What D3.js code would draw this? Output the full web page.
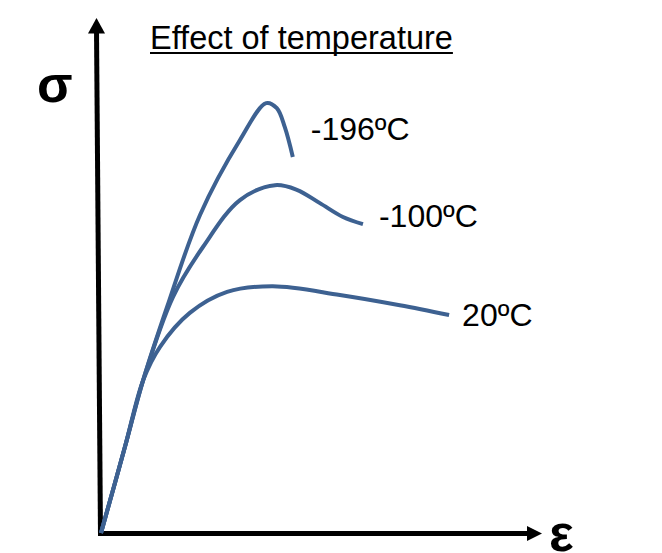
<!DOCTYPE html>
<html>
<head>
<meta charset="utf-8">
<script src="https://cdn.jsdelivr.net/npm/d3@7"></script>
<style>
  body { margin: 0; background: white; }
  svg { display: block; }
</style>
</head>
<body>
<div id="view-container"></div>
<script>
// ************** data (arbitrary units) **************************************
var titleText = "Effect of temperature";
var yLabel = "σ";
var xLabel = "ε";

var seriesNames = ["-196ºC", "-100ºC", "20ºC"];

// strain values per curve
var strain196 = [0, 0.54, 0.95, 1.49, 2.23, 3.13, 3.72, 3.96, 4.14, 4.32];
var strain100 = [0, 0.54, 0.95, 1.62, 2.30, 3.13, 3.92, 4.41, 4.93, 5.45, 5.90];
var strain20  = [0, 0.54, 0.95, 1.33, 2.00, 2.84, 3.87, 5.38, 6.73, 7.84];

// stress values per curve
var stress196 = [0, 1.68, 2.98, 4.41, 6.20, 7.66, 8.38, 8.28, 7.91, 7.33];
var stress100 = [0, 1.68, 2.98, 4.60, 5.58, 6.49, 6.78, 6.69, 6.43, 6.16, 6.02];
var stress20  = [0, 1.68, 2.98, 3.63, 4.29, 4.70, 4.81, 4.64, 4.44, 4.25];

// ************** layout *****************
var widthTotal = 662;
var heightTotal = 553;
var margin = {top: 20, right: 117, bottom: 20, left: 101};

var lineColor = "#3d6191";
var fontFamily = "'Liberation Sans', Arial, sans-serif";

// where the labels sit relative to the end of each curve
var labelOffset = [{dx: 18, dy: -17}, {dx: 16, dy: 3}, {dx: 13, dy: 11}];

var x = d3.scaleLinear().domain([0, 10]).range([margin.left, widthTotal - margin.right]);
var y = d3.scaleLinear().domain([0, 10]).range([heightTotal - margin.bottom, margin.top]);

var curves = [
  d3.zip(strain196, stress196),
  d3.zip(strain100, stress100),
  d3.zip(strain20, stress20)
];

var svg = d3.select("#view-container").append("svg")
  .attr("width", widthTotal)
  .attr("height", heightTotal);

//axes (plain arrows, no ticks)
var axisY = y(0) + 0.5;
var axisG = svg.append("g").attr("id", "axes");

axisG.append("line")
  .attr("x1", x(0) - 4.5).attr("y1", 30)
  .attr("x2", x(0) - 0.5).attr("y2", axisY + 2.5)
  .attr("stroke", "black")
  .attr("stroke-width", 5);

axisG.append("path")
  .attr("d", "M" + (x(0) - 4.5) + ",18 L" + (x(0) - 13) + ",33.5 L" + (x(0) + 4) + ",33.5 Z")
  .attr("fill", "black");

axisG.append("line")
  .attr("x1", x(0) - 3).attr("y1", axisY)
  .attr("x2", 530).attr("y2", axisY)
  .attr("stroke", "black")
  .attr("stroke-width", 5);

axisG.append("path")
  .attr("d", "M527," + (axisY - 7.5) + " L542," + axisY + " L527," + (axisY + 7.5) + " Z")
  .attr("fill", "black");

//axis symbols
svg.append("text")
  .attr("x", 37)
  .attr("y", 102)
  .attr("font-family", fontFamily)
  .attr("font-weight", "bold")
  .attr("font-size", "52px")
  .text(yLabel);

svg.append("text")
  .attr("x", 549)
  .attr("y", 551)
  .attr("font-family", fontFamily)
  .attr("font-weight", "bold")
  .attr("font-size", "52px")
  .text(xLabel);

//title with underline
var title = svg.append("text")
  .attr("x", 150)
  .attr("y", 49)
  .attr("font-family", fontFamily)
  .attr("font-size", "32.5px")
  .text(titleText);

var tb = title.node().getBBox();
svg.append("line")
  .attr("x1", tb.x).attr("x2", tb.x + tb.width)
  .attr("y1", 53).attr("y2", 53)
  .attr("stroke", "black")
  .attr("stroke-width", 2);

//curves
var line = d3.line()
  .x(function(d) { return x(d[0]); })
  .y(function(d) { return y(d[1]); })
  .curve(d3.curveCatmullRom.alpha(0.5));

svg.append("g")
  .attr("id", "curves")
  .selectAll("path")
  .data(curves)
  .enter()
  .append("path")
  .attr("d", line)
  .attr("fill", "none")
  .attr("stroke", lineColor)
  .attr("stroke-width", 4)
  .attr("stroke-linecap", "butt");

//labels at curve ends
svg.append("g")
  .attr("id", "labels")
  .selectAll("text")
  .data(curves)
  .enter()
  .append("text")
  .attr("x", function(d, i) { return x(d[d.length - 1][0]) + labelOffset[i].dx; })
  .attr("y", function(d, i) { return y(d[d.length - 1][1]) + labelOffset[i].dy; })
  .attr("font-family", fontFamily)
  .attr("font-size", "32px")
  .text(function(d, i) { return seriesNames[i]; });
</script>
</body>
</html>
